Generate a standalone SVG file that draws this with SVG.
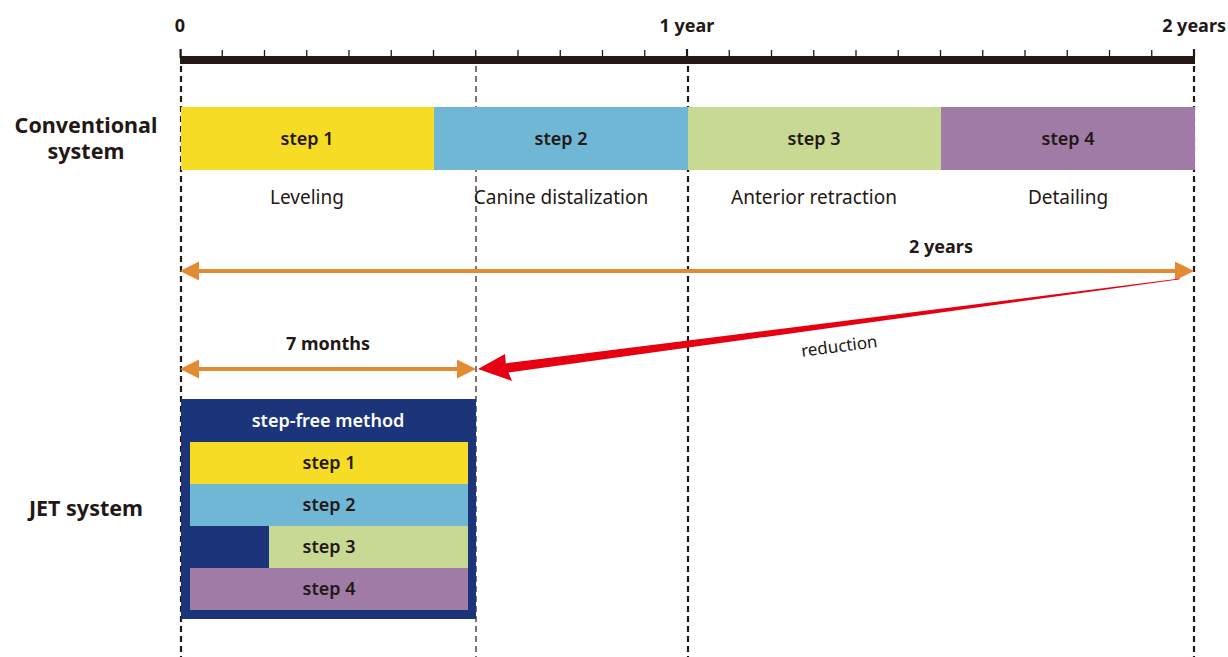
<svg xmlns="http://www.w3.org/2000/svg" width="1228" height="657" viewBox="0 0 1228 657">
<defs>
<style>
text{font-family:"Noto Sans","Open Sans","Liberation Sans",sans-serif;fill:#231815}
.m{font-weight:600;font-size:18px}
.ax{font-weight:700;font-size:18px}
.lbl{font-size:19px}
.title{font-weight:700;font-size:21.5px}
.vd{stroke:#231815;stroke-width:2.2;stroke-dasharray:6,4;fill:none}
.vt{stroke:#231815;stroke-width:1.2;stroke-dasharray:6,4;fill:none}
.tick{stroke:#231815;stroke-width:1.3}
.or{stroke:#E38A35;stroke-width:4;fill:none}
.oh{fill:#E38A35}
</style>
</defs>
<rect width="1228" height="657" fill="#fff"/>

<g id="axis">
<rect x="180" y="56" width="1015" height="8" fill="#231815"/>
<path class="tick" d="M180.6,50V58 M222.25,50V58 M264.5,50V58 M306.75,50V58 M349,50V58 M391.25,50V58 M433.5,50V58 M475.75,50V58 M518,50V58 M560.25,50V58 M602.5,50V58 M644.75,50V58 M687,50V58 M729.25,50V58 M771.5,50V58 M813.75,50V58 M856,50V58 M898.25,50V58 M940.5,50V58 M982.75,50V58 M1025,50V58 M1067.25,50V58 M1109.5,50V58 M1151.75,50V58 M1194,50V58" />
<path d="M180.6,49V58 M687,49V58 M1194,49V58" stroke="#231815" stroke-width="2.2"/>
<text class="ax" x="180" y="32" text-anchor="middle">0</text>
<text class="ax" x="687" y="32" text-anchor="middle">1 year</text>
<text class="ax" x="1226" y="32" text-anchor="end">2 years</text>
</g>

<g id="gridlines">
<path class="vd" d="M181,66V657"/>
<path class="vt" d="M476,66V657"/>
<path class="vd" d="M688,66V657"/>
<path class="vd" d="M1194,66V657"/>
</g>

<g id="conventional-label">
<text class="title" x="86" text-anchor="middle"><tspan x="86" y="133">Conventional</tspan><tspan x="86" y="159">system</tspan></text>
</g>

<g id="conv-step1">
<rect x="181" y="107" width="253" height="63" fill="#F7DC26"/>
<text class="m" x="307" y="145" text-anchor="middle">step 1</text>
<text class="lbl" x="307" y="204" text-anchor="middle">Leveling</text>
</g>
<g id="conv-step2">
<rect x="434" y="107" width="254" height="63" fill="#6FB7D4"/>
<text class="m" x="561" y="145" text-anchor="middle">step 2</text>
<text class="lbl" x="561" y="204" text-anchor="middle">Canine distalization</text>
</g>
<g id="conv-step3">
<rect x="688" y="107" width="253" height="63" fill="#C8D993"/>
<text class="m" x="814" y="145" text-anchor="middle">step 3</text>
<text class="lbl" x="814" y="204" text-anchor="middle">Anterior retraction</text>
</g>
<g id="conv-step4">
<rect x="941" y="107" width="254" height="63" fill="#A07BA6"/>
<text class="m" x="1068" y="145" text-anchor="middle">step 4</text>
<text class="lbl" x="1068" y="204" text-anchor="middle">Detailing</text>
</g>

<g id="connectors">
<path class="or" d="M196,271H1178"/>
<path class="oh" d="M180,271 L199,261.5 L199,280.5 Z M1194,271 L1175,261.5 L1175,280.5 Z"/>
<text class="ax" x="941" y="253" text-anchor="middle">2 years</text>
<path class="or" d="M196,369H460"/>
<path class="oh" d="M180,369 L199,359.5 L199,378.5 Z M476,369 L457,359.5 L457,378.5 Z"/>
<text class="ax" x="328" y="350" text-anchor="middle">7 months</text>
<path d="M1180,278.5 L1180,279.3 L508.5,372.6 L512,381 L478,369 L505,354 L505.8,363.4 Z" fill="#E60012"/>
<text x="840" y="352" font-size="17" text-anchor="middle" transform="rotate(-7.4 840 352)">reduction</text>
</g>

<g id="jet-label">
<text class="title" x="86" y="516" text-anchor="middle">JET system</text>
</g>

<g id="jet-box">
<rect x="181" y="399" width="295" height="220" fill="#1B347A"/>
<text x="328" y="427" font-size="18" font-weight="600" text-anchor="middle" style="fill:#fff">step-free method</text>
</g>
<g id="jet-step1">
<rect x="190" y="442" width="278" height="42" fill="#F7DC26"/>
<text class="m" x="329" y="469" text-anchor="middle">step 1</text>
</g>
<g id="jet-step2">
<rect x="190" y="484" width="278" height="42" fill="#6FB7D4"/>
<text class="m" x="329" y="511" text-anchor="middle">step 2</text>
</g>
<g id="jet-step3">
<rect x="269" y="526" width="199" height="42" fill="#C8D993"/>
<text class="m" x="329" y="553" text-anchor="middle">step 3</text>
</g>
<g id="jet-step4">
<rect x="190" y="568" width="278" height="42" fill="#A07BA6"/>
<text class="m" x="329" y="595" text-anchor="middle">step 4</text>
</g>
</svg>
